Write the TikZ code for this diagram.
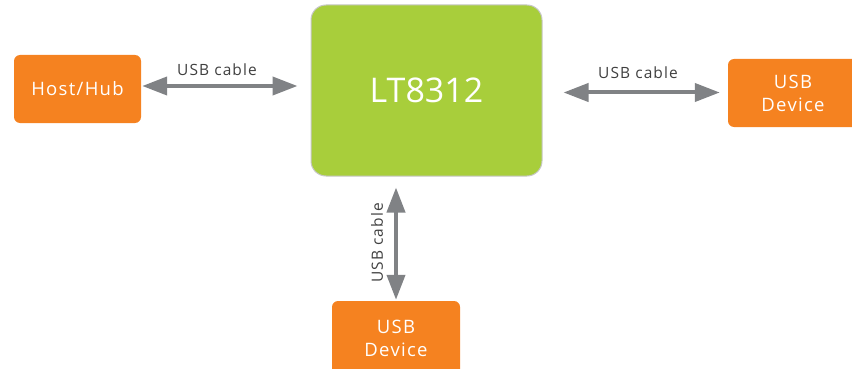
\documentclass[tikz,border=0pt]{standalone}
\usepackage{fontspec}
\setmainfont{Open Sans}[LetterSpace=7]
\newfontfamily\chipfont{Open Sans}
\usetikzlibrary{arrows.meta}
\definecolor{boxorange}{HTML}{F58220}
\definecolor{chipgreen}{HTML}{A8CE3B}
\definecolor{cablegrey}{HTML}{808285}
\definecolor{labelgrey}{HTML}{3F3F3F}
\begin{document}
\begin{tikzpicture}[x=1pt, y=-1pt,
    port/.style={rectangle, rounded corners=6pt, fill=boxorange, text=white, font=\fontsize{18.5}{23}\selectfont, align=center, inner sep=0pt},
    chipbox/.style={rectangle, rounded corners=15pt, fill=chipgreen, draw=black!22, line width=1pt, text=white, font=\chipfont\fontsize{34}{40}\selectfont, minimum width=231pt, minimum height=171pt, inner sep=0pt},
    cable/.style={draw=cablegrey, line width=4pt, {Triangle[length=25pt, width=18pt]}-{Triangle[length=25pt, width=18pt]}},
    cablelabel/.style={text=labelgrey, font=\fontsize{15.5}{18}\selectfont, inner sep=0pt}]
  \useasboundingbox (0,0) rectangle (852,369);
  \node (chip) at (426.5,90.5) [chipbox] {LT8312};
  \node (host) at (77.5,89) [port, minimum width=127pt, minimum height=68pt] {Host/Hub};
  \node (devr) at (793,93) [port, minimum width=130pt, minimum height=68pt] {USB\\Device};
  \node (devb) at (396,338) [port, minimum width=128pt, minimum height=74pt] {USB\\Device};
  \draw[cable, shorten <=1pt, shorten >=13pt] ([yshift=3pt]host.east) -- ([yshift=3pt]host.east -| chip.west);
  \draw[cable, shorten <=21pt, shorten >=8pt] ([yshift=-2pt]chip.east) -- ([yshift=-2pt]chip.east -| devr.west);
  \draw[cable, shorten <=11pt, shorten >=1pt] (devb.north |- chip.south) -- (devb.north);
  \node (lblleft) at (217,70) [cablelabel] {USB cable};
  \node (lblright) at (638,73) [cablelabel] {USB cable};
  \node (lbldown) at (377,243) [cablelabel, rotate=90] {USB cable};
\end{tikzpicture}
\end{document}
